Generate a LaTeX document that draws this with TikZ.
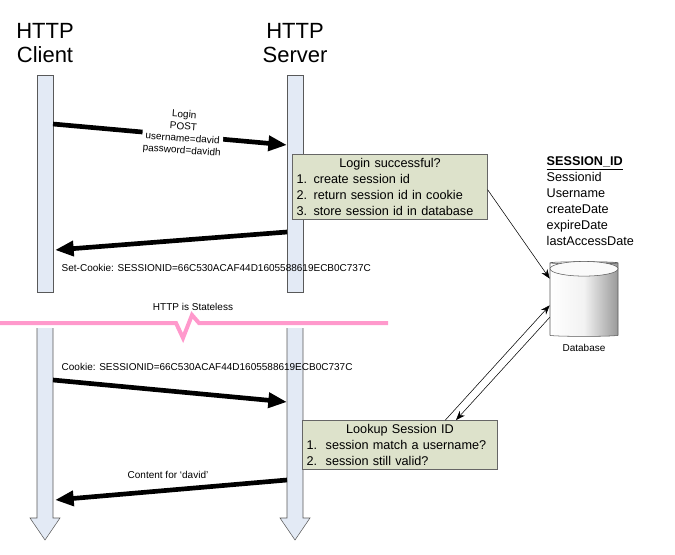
\documentclass[tikz,border=0pt]{standalone}
\usepackage{fontspec}
\setmainfont{Liberation Sans}
\usetikzlibrary{shapes.geometric,arrows.meta}
\definecolor{lifefill}{HTML}{E3EAF5}
\definecolor{boxfill}{HTML}{DDE2CB}
\definecolor{stateless}{HTML}{FF99CC}
\tikzset{
  msg/.style={line width=3.5pt, -{Triangle[length=14pt,width=11pt]}},
  dbline/.style={thin, -{Stealth[length=7pt]}},
  note/.style={draw=gray!80!black, fill=boxfill, font=\fontsize{9.5}{12}\selectfont, align=left, inner sep=3pt, text width=140pt},
  small/.style={font=\fontsize{7.5}{9}\selectfont},
  title/.style={font=\fontsize{16.5}{18}\selectfont, align=center},
  life/.style={draw=gray!70!black, fill=lifefill}
}
\begin{document}
\begin{tikzpicture}[x=0.75pt,y=-0.75pt]
\useasboundingbox (0,0) rectangle (675,554);
% titles
\node[title] (tclient) at (45,43) {HTTP\\Client};
\node[title] (tserver) at (295,43) {HTTP\\Server};
% lifelines
\draw[life] (37,75) rectangle (53,292);
\draw[life] (287,75) rectangle (303,292);
\draw[life] (37,328) -- (37,518) -- (30,518) -- (45,540) -- (60,518) -- (53,518) -- (53,328);
\draw[life] (287,328) -- (287,518) -- (280,518) -- (295,540) -- (310,518) -- (303,518) -- (303,328);
% stateless break
\draw[stateless, line width=3pt] (0,323) -- (176,323) -- (183,338) -- (192,315) -- (199,323) -- (388,323);
\node[small] (lstate) at (193,307) {HTTP is Stateless};
% notes
\node[note] (login) at (390,187) {{\centering Login successful?\par}1. create session id\\2. return session id in cookie\\3. store session id in database};
\node[note] (lookup) at (400,445) {{\centering Lookup Session ID\par}1.\ \ session match a username?\\2.\ \ session still valid?};
% messages
\coordinate (c1) at (53,124);
\coordinate (s1) at (287,145);
\draw[msg] (c1) -- (s1);
\node[small, align=center, fill=white, inner sep=1pt, rotate=-4] (lpost) at (183,133) {Login\\POST\\username=david\\password=davidh};
\coordinate (s2) at (287,232);
\coordinate (c2) at (55,250);
\draw[msg] (s2) -- (c2);
\node[small, anchor=west] (lset) at (57,268) {Set-Cookie: SESSIONID=66C530ACAF44D1605588619ECB0C737C};
\coordinate (c3) at (53,380);
\coordinate (s3) at (287,402);
\draw[msg] (c3) -- (s3);
\node[small, anchor=west] (lcookie) at (57,367) {Cookie: SESSIONID=66C530ACAF44D1605588619ECB0C737C};
\coordinate (s4) at (287,480);
\coordinate (c4) at (55,500);
\draw[msg] (s4) -- (c4);
\node[small] (lcontent) at (168,475) {Content for `david'};
% database
\node[cylinder, shape border rotate=90, aspect=0.25, draw=gray!70!black, minimum width=51pt, minimum height=56pt,
  left color=white, right color=gray!80, middle color=gray!10] (db) at (584,300) {};
\draw[gray!70!black, fill=white!96!gray] ([yshift=-5.5pt]db.top) ellipse (25.5pt and 5.5pt);
\node[small] (ldb) at (584,348) {Database};
\node[font=\fontsize{9.5}{12}\selectfont, align=left, anchor=north west] (fields) at (542,152)
  {\textbf{\underline{SESSION\_ID}}\\Sessionid\\Username\\createDate\\expireDate\\lastAccessDate};
\draw[dbline] ([yshift=-2pt]login.east) -- ([yshift=16pt]db.west);
\draw[dbline] ([xshift=34pt]lookup.north) -- ([yshift=-4pt]db.west);
\draw[dbline] ([yshift=-13pt]db.west) -- ([xshift=42pt]lookup.north);
\end{tikzpicture}
\end{document}
